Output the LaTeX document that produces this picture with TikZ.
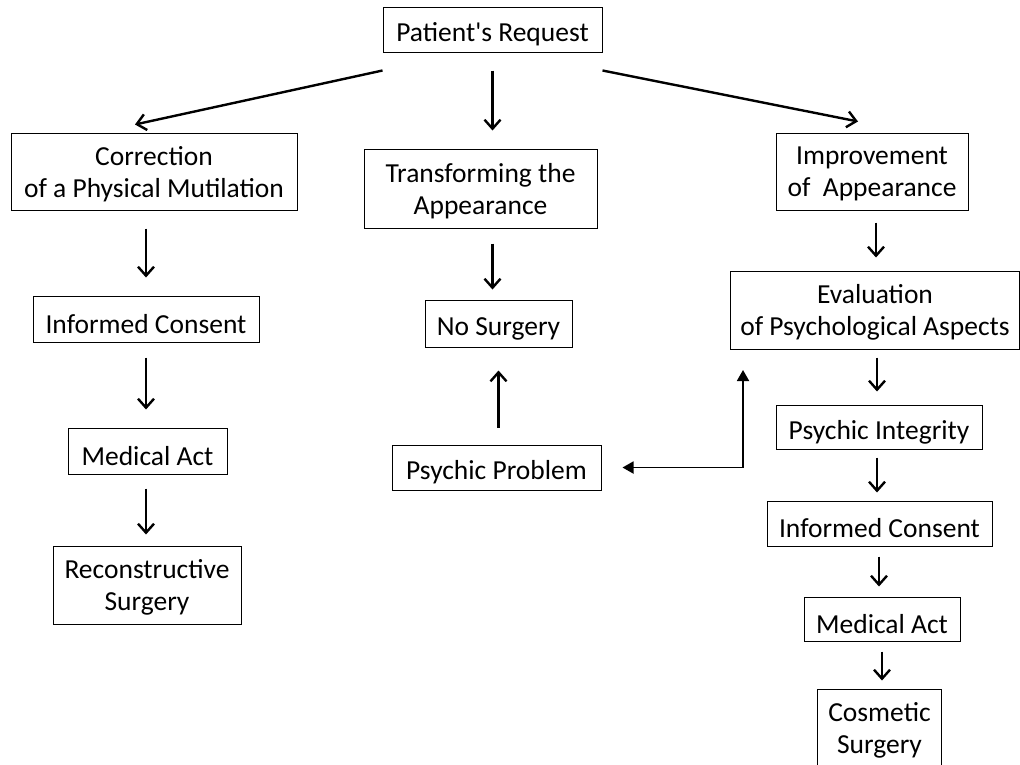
\documentclass[tikz,border=0pt]{standalone}
\usepackage{fontspec}
\setmainfont{Carlito}[Ligatures=TeXOff]
\usetikzlibrary{arrows.meta}
\begin{document}
\begin{tikzpicture}[x=1pt,y=-1pt,
  boxbase/.style={draw, line width=1pt, align=center, inner sep=0pt,
    font=\fontsize{27.5}{32}\selectfont},
  box/.style={boxbase, execute at begin node={\rule{0pt}{29pt}}},
  boxtwo/.style={boxbase, text depth=-7pt},
  arr/.style={line width=2.4pt, -{Straight Barb[length=9pt,width=16pt]}},
  darr/.style={line width=1.8pt, {Triangle[length=11pt,width=12pt]}-{Triangle[length=11pt,width=12pt]}}]
\useasboundingbox (0,0) rectangle (1020,764);
\node[box, minimum width=219pt, minimum height=45pt] (pr) at (492.5,29.5) {Patient's Request};
\node[boxtwo, minimum width=286pt, minimum height=77pt] (corr) at (154,171.5) {Correction\\of a Physical Mutilation};
\node[boxtwo, minimum width=233pt, minimum height=79pt] (trans) at (480.5,188.5) {Transforming the\\Appearance};
\node[boxtwo, minimum width=192pt, minimum height=77pt] (impr) at (872,171.5) {Improvement\\of\ \ Appearance};
\node[box, minimum width=226pt, minimum height=46pt] (ic1) at (146,319) {Informed Consent};
\node[box, minimum width=147pt, minimum height=47pt] (nos) at (498.5,323.5) {No Surgery};
\node[boxtwo, minimum width=289pt, minimum height=78pt] (eval) at (875,310) {Evaluation\\of Psychological Aspects};
\node[box, minimum width=159pt, minimum height=46pt] (ma1) at (147.5,451) {Medical Act};
\node[box, minimum width=209pt, minimum height=45pt] (pp) at (496.5,467.5) {Psychic Problem};
\node[box, minimum width=206pt, minimum height=44pt] (pi) at (879,427) {Psychic Integrity};
\node[box, minimum width=225pt, minimum height=45pt] (ic2) at (879.5,523.5) {Informed Consent};
\node[boxtwo, minimum width=188pt, minimum height=78pt] (rs) at (147,585) {Reconstructive\\Surgery};
\node[box, minimum width=156pt, minimum height=44pt] (ma2) at (882,619) {Medical Act};
\node[boxtwo, minimum width=124pt, minimum height=77pt] (cs) at (879.5,727.5) {Cosmetic\\Surgery};
\coordinate (ev) at (743,349);
% top arrows
\draw[arr] ([yshift=-18pt]pr.south west) -- ([xshift=-19pt,yshift=8pt]corr.north);
\draw[arr] ([yshift=-18pt]pr.south east) -- ([xshift=-14pt,yshift=11pt]impr.north);
\draw[arr, shorten <=18pt, shorten >=18pt] (pr.south) -- (pr.south |- trans.north);
% left column
\draw[arr, shorten <=18pt, shorten >=18pt] (ic1.north |- corr.south) -- (ic1.north);
\draw[arr, shorten <=15pt, shorten >=18pt] (ic1.south) -- (ic1.south |- ma1.north);
\draw[arr, shorten <=14pt, shorten >=11pt] (ic1.south |- ma1.south) -- (ic1.south |- rs.north);
% center
\draw[arr, shorten <=15pt, shorten >=10pt] (pr.south |- trans.south) -- (pr.south |- nos.north);
\draw[arr, shorten <=17pt, shorten >=23pt] (nos.south |- pp.north) -- (nos.south);
% right column
\draw[arr, shorten <=12pt, shorten >=13pt] ([xshift=4pt]impr.south) -- ([xshift=4pt]impr.south |- eval.north);
\draw[arr, shorten <=8pt, shorten >=13pt] ([xshift=-2pt]pi.north |- eval.south) -- ([xshift=-2pt]pi.north);
\draw[arr, shorten <=8pt, shorten >=8pt] ([xshift=-2pt]pi.south) -- ([xshift=-2pt]pi.south |- ic2.north);
\draw[arr, shorten <=10pt, shorten >=10pt] (ic2.south -| pi.south) -- (ma2.north -| pi.south);
\draw[arr, shorten <=10pt, shorten >=8pt] (ma2.south) -- (ma2.south |- cs.north);
% double arrow
\draw[darr, shorten <=21pt, shorten >=21pt] (pp.east) -| (ev);
\end{tikzpicture}
\end{document}
